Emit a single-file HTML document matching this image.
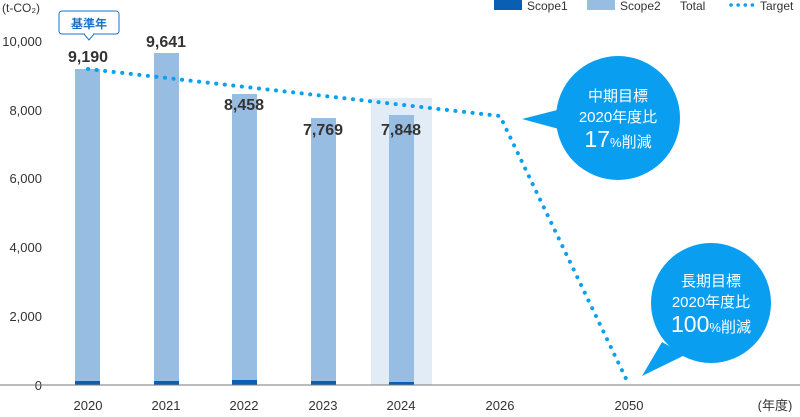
<!DOCTYPE html>
<html><head><meta charset="utf-8"><style>
body{margin:0;background:#fff}
text{font-family:"Liberation Sans","Noto Sans CJK JP",sans-serif}
</style></head><body>
<svg width="800" height="412" viewBox="0 0 800 412" xmlns="http://www.w3.org/2000/svg">
<rect width="800" height="412" fill="#fff"/>
<g fill="#333" font-size="13" text-anchor="end">
<text x="42" y="46">10,000</text>
<text x="42" y="115">8,000</text>
<text x="42" y="183">6,000</text>
<text x="42" y="252">4,000</text>
<text x="42" y="321">2,000</text>
<text x="42" y="390">0</text>
</g>
<text x="2" y="12" font-size="12" fill="#333">(t-CO₂)</text>
<rect x="371" y="98" width="61" height="287" fill="#e2ecf7"/>
<g fill="#98bde3">
<rect x="75" y="69" width="25" height="316"/>
<rect x="154" y="53" width="25" height="332"/>
<rect x="232" y="94" width="25" height="291"/>
<rect x="311" y="118" width="25" height="267"/>
<rect x="389" y="115" width="25" height="270"/>
</g>
<g fill="#0a5fb4">
<rect x="75" y="381" width="25" height="4"/>
<rect x="154" y="381" width="25" height="4"/>
<rect x="232" y="380" width="25" height="5"/>
<rect x="311" y="381" width="25" height="4"/>
<rect x="389" y="382" width="25" height="3"/>
</g>
<line x1="0" y1="385" x2="800" y2="385" stroke="#777" stroke-width="1"/>
<g fill="#333" font-size="16" font-weight="bold" text-anchor="middle">
<text x="88" y="62">9,190</text>
<text x="166" y="47">9,641</text>
<text x="244" y="110">8,458</text>
<text x="323" y="135">7,769</text>
<text x="401" y="135">7,848</text>
</g>
<rect x="59" y="11" width="60" height="23" rx="3" fill="#fff" stroke="#1a73c8"/>
<path d="M84 34 L89 40 L94 34" fill="#fff" stroke="#1a73c8"/>
<rect x="85" y="32" width="8" height="3" fill="#fff"/>
<text x="89" y="28" font-size="12" font-weight="bold" fill="#1a6fc6" text-anchor="middle">基準年</text>
<polyline points="88,69 500,116 629,385" fill="none" stroke="#0aa0f0" stroke-width="4" stroke-dasharray="0.1 8.5" stroke-linecap="round"/>
<g fill="#0a9ef0">
<circle cx="618" cy="118" r="62"/>
<path d="M522 119 L565 108 L570 132 Z"/>
<circle cx="711" cy="303" r="60"/>
<path d="M642 376 L662 342 L685 355 Z"/>
</g>
<g fill="#fff" text-anchor="middle">
<text x="618" y="101" font-size="15">中期目標</text>
<text x="618" y="122" font-size="15">2020年度比</text>
<text x="618" y="147"><tspan font-size="23">17</tspan><tspan font-size="13">%</tspan><tspan font-size="15">削減</tspan></text>
<text x="711" y="286" font-size="15">長期目標</text>
<text x="711" y="307" font-size="15">2020年度比</text>
<text x="711" y="332"><tspan font-size="23">100</tspan><tspan font-size="13">%</tspan><tspan font-size="15">削減</tspan></text>
</g>
<g fill="#333" font-size="13" text-anchor="middle">
<text x="88" y="410">2020</text>
<text x="166" y="410">2021</text>
<text x="244" y="410">2022</text>
<text x="323" y="410">2023</text>
<text x="401" y="410">2024</text>
<text x="500" y="410">2026</text>
<text x="629" y="410">2050</text>
<text x="775" y="410">(年度)</text>
</g>
<rect x="494" y="0" width="28" height="10" fill="#0a5fb4"/>
<text x="527" y="10" font-size="12" fill="#333">Scope1</text>
<rect x="587" y="0" width="28" height="10" fill="#98bde3"/>
<text x="620" y="10" font-size="12" fill="#333">Scope2</text>
<text x="680" y="10" font-size="12" fill="#333">Total</text>
<line x1="731" y1="5" x2="757" y2="5" stroke="#0aa0f0" stroke-width="3.5" stroke-dasharray="0.1 7" stroke-linecap="round"/>
<text x="760" y="10" font-size="12" fill="#333">Target</text>
</svg>
</body></html>
